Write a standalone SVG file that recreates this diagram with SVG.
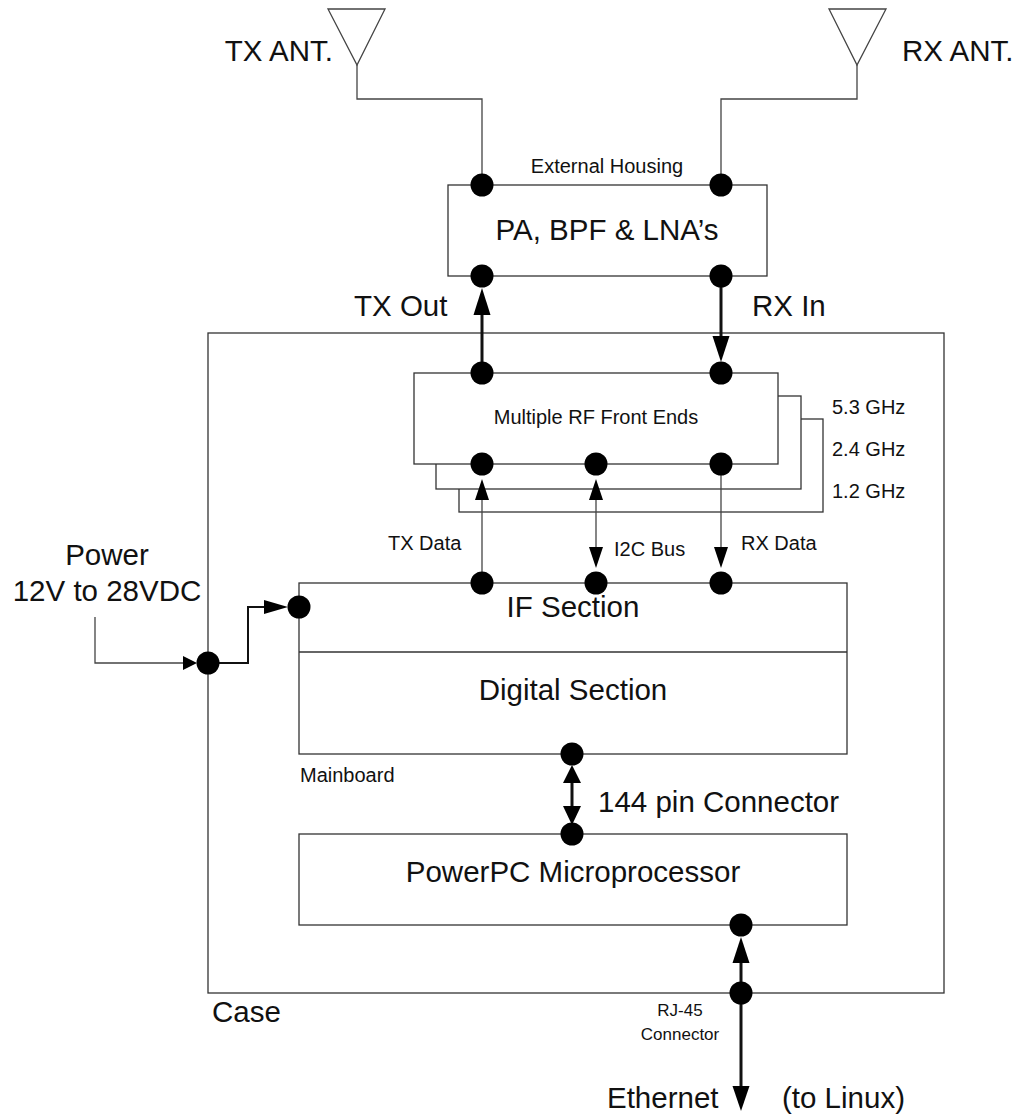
<svg xmlns="http://www.w3.org/2000/svg" width="1026" height="1116" viewBox="0 0 1026 1116">
<style>
.box{fill:#fff;stroke:#333;stroke-width:1.3}
.thin{fill:none;stroke:#444;stroke-width:1.3}
.thick{fill:none;stroke:#111;stroke-width:3}
.med{fill:none;stroke:#111;stroke-width:2}
.dot{fill:#000}
.head{fill:#000}
text{font-family:"Liberation Sans",Arial,sans-serif;fill:#111}
.big{font-size:29.5px}
.sm{font-size:20px}
</style>
<rect width="1026" height="1116" fill="#fff"/>
<g id="case"><rect class="box" x="208" y="333" width="736" height="660" fill="none"/>
<text class="big" x="212" y="1022">Case</text></g>
<g id="tx-antenna"><polygon class="thin" points="328,9 385,9 357,65"/><text class="big" x="333" y="61" text-anchor="end">TX ANT.</text></g>
<g id="rx-antenna"><polygon class="thin" points="829,9 886,9 857,65"/><text class="big" x="902" y="61">RX ANT.</text></g>
<g id="pa"><rect class="box" x="448" y="185" width="319" height="91"/>
<text class="big" x="607" y="240" text-anchor="middle">PA, BPF &amp; LNA’s</text>
<text class="sm" x="607" y="173" text-anchor="middle">External Housing</text></g>
<g id="rf"><rect class="box" x="459" y="419" width="364" height="93"/>
<rect class="box" x="436" y="396" width="365" height="93"/>
<rect class="box" x="414" y="373" width="364" height="91"/>
<text class="sm" x="596" y="424" text-anchor="middle">Multiple RF Front Ends</text>
<text class="sm" x="832" y="414">5.3 GHz</text>
<text class="sm" x="832" y="456">2.4 GHz</text>
<text class="sm" x="832" y="498">1.2 GHz</text></g>
<g id="mainboard"><rect class="box" x="299" y="583" width="548" height="171"/>
<line class="box" x1="299" y1="652" x2="847" y2="652"/>
<text class="big" x="573" y="617" text-anchor="middle">IF Section</text>
<text class="big" x="573" y="700" text-anchor="middle">Digital Section</text>
<text class="sm" x="300" y="782">Mainboard</text></g>
<g id="powerpc"><rect class="box" x="299" y="834" width="548" height="91"/>
<text class="big" x="573" y="882" text-anchor="middle">PowerPC Microprocessor</text></g>
<g id="connectors">
<polyline class="thin" points="357,65 357,99 482,99 482,185"/>
<polyline class="thin" points="857,65 857,99 721,99 721,185"/>
<line class="thick" x1="482" y1="373" x2="482" y2="312"/><polygon class="head" points="482,288 473.5,315 490.5,315"/>
<line class="thick" x1="721" y1="276" x2="721" y2="340"/><polygon class="head" points="721,362 712.5,336 729.5,336"/>
<text class="big" x="354" y="316">TX Out</text><text class="big" x="752" y="316">RX In</text>
<line class="thin" x1="482" y1="583" x2="482" y2="498"/><polygon class="head" points="482,479 475,500 489,500"/>
<line class="thin" x1="596" y1="498" x2="596" y2="550"/><polygon class="head" points="596,479 589,500 603,500"/><polygon class="head" points="596,568 589,547 603,547"/>
<line class="thin" x1="721" y1="464" x2="721" y2="550"/><polygon class="head" points="721,568 714,547 728,547"/>
<text class="sm" x="388" y="550">TX Data</text><text class="sm" x="614" y="556">I2C Bus</text><text class="sm" x="741" y="550">RX Data</text>
<polyline class="thin" points="95,617 95,663 185,663"/><polygon class="head" points="197,663 183,656 183,670"/>
<polyline class="med" points="208,663 248,663 248,607 266,607"/><polygon class="head" points="288,607 264,600 264,614"/>
<text class="big" x="107" y="565" text-anchor="middle">Power</text><text class="big" x="107" y="601" text-anchor="middle">12V to 28VDC</text>
<line class="thick" x1="572" y1="780" x2="572" y2="809"/><polygon class="head" points="572,765 563,783 581,783"/><polygon class="head" points="572,825 563,806 581,806"/>
<text class="big" x="598" y="812">144 pin Connector</text>
<line class="thick" x1="741" y1="960" x2="741" y2="1090"/><polygon class="head" points="741,937 732.5,963 749.5,963"/><polygon class="head" points="741,1111 732.5,1086 749.5,1086"/>
<text class="sm" x="680" y="1016" text-anchor="middle" style="font-size:17px">RJ-45</text><text class="sm" x="680" y="1040" text-anchor="middle" style="font-size:17px">Connector</text>
<text class="big" x="607" y="1108">Ethernet</text><text class="big" x="782" y="1108">(to Linux)</text>
</g>
<g id="ports">
<circle class="dot" cx="482" cy="185" r="11.5"/><circle class="dot" cx="721" cy="185" r="11.5"/>
<circle class="dot" cx="482" cy="276" r="11.5"/><circle class="dot" cx="721" cy="276" r="11.5"/>
<circle class="dot" cx="482" cy="373" r="11.5"/><circle class="dot" cx="721" cy="373" r="11.5"/>
<circle class="dot" cx="482" cy="464" r="11.5"/><circle class="dot" cx="596" cy="464" r="11.5"/><circle class="dot" cx="721" cy="464" r="11.5"/>
<circle class="dot" cx="482" cy="583" r="11.5"/><circle class="dot" cx="596" cy="583" r="11.5"/><circle class="dot" cx="721" cy="583" r="11.5"/>
<circle class="dot" cx="208" cy="663" r="11.5"/><circle class="dot" cx="299" cy="607" r="11.5"/>
<circle class="dot" cx="572" cy="754" r="11.5"/><circle class="dot" cx="572" cy="834" r="11.5"/>
<circle class="dot" cx="741" cy="925" r="11.5"/><circle class="dot" cx="741" cy="993" r="11.5"/>
</g>
</svg>
